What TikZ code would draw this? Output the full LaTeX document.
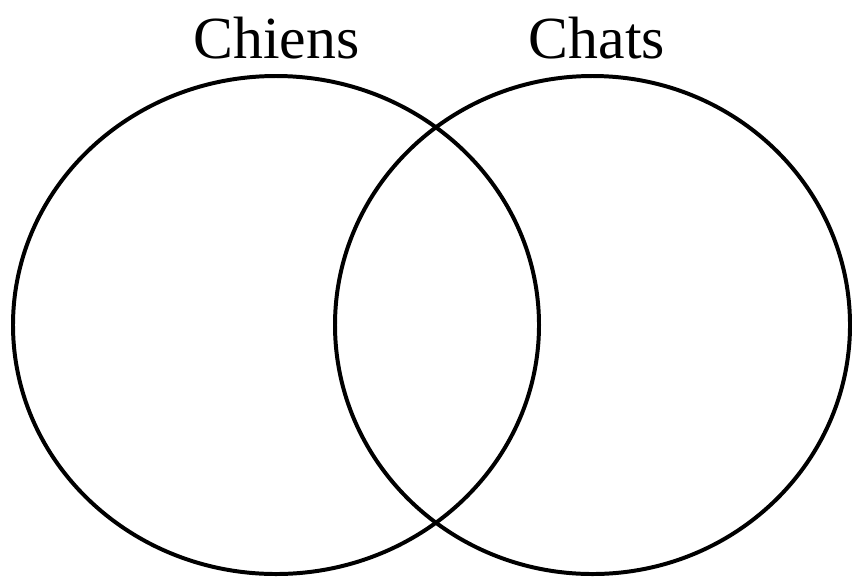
\documentclass[tikz,border=0pt]{standalone}
\usepackage{fontspec}
\setmainfont{Liberation Serif}
\usetikzlibrary{positioning}

\begin{document}
\begin{tikzpicture}[x=0.03cm, y=-0.03cm, line width=3.4pt]
    \useasboundingbox (0,0) rectangle (852,576);
    % sets
    \draw (276,325) ellipse [x radius=263, y radius=249];
    \draw (592.5,325) ellipse [x radius=257.5, y radius=249];
    % labels
    \node[anchor=base, font=\fontsize{51}{60}\selectfont, inner sep=0pt] (chiens) at (276.5,58) {Chiens};
    \node[anchor=base, font=\fontsize{51}{60}\selectfont, inner sep=0pt] (chats) at (597,58) {Chats};
\end{tikzpicture}
\end{document}
